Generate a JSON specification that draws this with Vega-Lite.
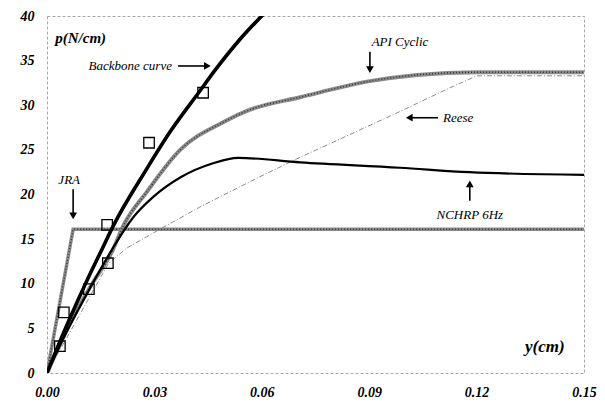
{
  "$schema": "https://vega.github.io/schema/vega-lite/v6.json",
  "width": 537,
  "height": 357,
  "autosize": {"type": "none"},
  "padding": {"left": 47, "top": 16, "right": 21, "bottom": 34},
  "background": "white",
  "config": {
    "view": {"stroke": "#a8a8a8", "strokeDash": [3, 2], "strokeWidth": 1},
    "axis": {
      "grid": false, "domain": false, "ticks": false, "title": null,
      "labelFont": "Liberation Serif", "labelFontSize": 14, "labelFontWeight": "bold",
      "labelFontStyle": "italic", "labelColor": "black", "labelFlush": false, "labelOverlap": false
    }
  },
  "datasets": {
    "curves": [
      {"series": "Backbone", "x": 0, "y": 0},
      {"series": "Backbone", "x": 0.0056, "y": 5.4},
      {"series": "Backbone", "x": 0.0112, "y": 10.4},
      {"series": "Backbone", "x": 0.0154, "y": 13.9},
      {"series": "Backbone", "x": 0.0184, "y": 16.4},
      {"series": "Backbone", "x": 0.0279, "y": 22.9},
      {"series": "Backbone", "x": 0.0335, "y": 26.5},
      {"series": "Backbone", "x": 0.0427, "y": 31.6},
      {"series": "Backbone", "x": 0.0469, "y": 33.9},
      {"series": "Backbone", "x": 0.0535, "y": 37.2},
      {"series": "Backbone", "x": 0.0612, "y": 40.5},
      {"series": "API", "x": 0, "y": 0},
      {"series": "API", "x": 0.006, "y": 5.2},
      {"series": "API", "x": 0.012, "y": 9.6},
      {"series": "API", "x": 0.0184, "y": 13.8},
      {"series": "API", "x": 0.0212, "y": 16.4},
      {"series": "API", "x": 0.0279, "y": 20.3},
      {"series": "API", "x": 0.0372, "y": 25.0},
      {"series": "API", "x": 0.0492, "y": 28.1},
      {"series": "API", "x": 0.0567, "y": 29.5},
      {"series": "API", "x": 0.0707, "y": 30.9},
      {"series": "API", "x": 0.0902, "y": 32.7},
      {"series": "API", "x": 0.1034, "y": 33.4},
      {"series": "API", "x": 0.12, "y": 33.7},
      {"series": "API", "x": 0.15, "y": 33.7},
      {"series": "NCHRP", "x": 0, "y": 0},
      {"series": "NCHRP", "x": 0.006, "y": 5.0},
      {"series": "NCHRP", "x": 0.012, "y": 9.5},
      {"series": "NCHRP", "x": 0.0184, "y": 14.0},
      {"series": "NCHRP", "x": 0.024, "y": 17.4},
      {"series": "NCHRP", "x": 0.0296, "y": 19.7},
      {"series": "NCHRP", "x": 0.0372, "y": 21.9},
      {"series": "NCHRP", "x": 0.0464, "y": 23.5},
      {"series": "NCHRP", "x": 0.0534, "y": 24.1},
      {"series": "NCHRP", "x": 0.0707, "y": 23.6},
      {"series": "NCHRP", "x": 0.0986, "y": 23.0},
      {"series": "NCHRP", "x": 0.118, "y": 22.5},
      {"series": "NCHRP", "x": 0.15, "y": 22.2},
      {"series": "Reese", "x": 0, "y": 0},
      {"series": "Reese", "x": 0.0172, "y": 12.3},
      {"series": "Reese", "x": 0.0223, "y": 14.0},
      {"series": "Reese", "x": 0.0324, "y": 16.3},
      {"series": "Reese", "x": 0.0427, "y": 18.6},
      {"series": "Reese", "x": 0.0595, "y": 22.0},
      {"series": "Reese", "x": 0.0698, "y": 24.0},
      {"series": "Reese", "x": 0.0883, "y": 27.4},
      {"series": "Reese", "x": 0.0986, "y": 29.3},
      {"series": "Reese", "x": 0.1117, "y": 31.8},
      {"series": "Reese", "x": 0.1201, "y": 33.3},
      {"series": "Reese", "x": 0.15, "y": 33.3},
      {"series": "JRA", "x": 0, "y": 0},
      {"series": "JRA", "x": 0.0073, "y": 16.1},
      {"series": "JRA", "x": 0.15, "y": 16.1}
    ],
    "tests": [
      {"x": 0.0036, "y": 3.0},
      {"x": 0.0047, "y": 6.8},
      {"x": 0.0117, "y": 9.4},
      {"x": 0.017, "y": 12.3},
      {"x": 0.0168, "y": 16.6},
      {"x": 0.0285, "y": 25.8},
      {"x": 0.0436, "y": 31.4}
    ],
    "arrows": [
      {"name": "JRA", "x": 0.0073, "y": 20.6, "x2": 0.0073, "y2": 17.6, "dir": "down"},
      {"name": "Backbone curve", "x": 0.0366, "y": 34.4, "x2": 0.0448, "y2": 34.4, "dir": "right"},
      {"name": "API Cyclic", "x": 0.0902, "y": 36.0, "x2": 0.0902, "y2": 34.0, "dir": "down"},
      {"name": "Reese", "x": 0.1092, "y": 28.6, "x2": 0.1012, "y2": 28.6, "dir": "left"},
      {"name": "NCHRP 6Hz", "x": 0.1181, "y": 19.3, "x2": 0.1181, "y2": 21.2, "dir": "up"}
    ],
    "notes": [
      {"label": "JRA", "x": 0.0062, "y": 21.6, "pos": "center"},
      {"label": "API Cyclic", "x": 0.0986, "y": 37.1, "pos": "center"},
      {"label": "NCHRP 6Hz", "x": 0.1181, "y": 17.7, "pos": "center"},
      {"label": "Backbone curve", "x": 0.0349, "y": 34.4, "pos": "right"},
      {"label": "Reese", "x": 0.1106, "y": 28.6, "pos": "left"}
    ],
    "titles": [
      {"label": "p(N/cm)", "x": 0.0023, "y": 37.5, "pos": "p"},
      {"label": "y(cm)", "x": 0.1335, "y": 2.9, "pos": "y"}
    ]
  },
  "encoding": {
    "x": {"field": "x", "type": "quantitative", "scale": {"domain": [0, 0.15], "nice": false, "zero": false},
          "axis": {"values": [0, 0.03, 0.06, 0.09, 0.12, 0.15], "format": ".2f", "labelPadding": 12}},
    "y": {"field": "y", "type": "quantitative", "scale": {"domain": [0, 40], "nice": false, "zero": false},
          "axis": {"values": [0, 5, 10, 15, 20, 25, 30, 35, 40], "format": "d", "labelPadding": 13}}
  },
  "layer": [
    {"data": {"name": "curves"}, "transform": [{"filter": "datum.series === 'Reese'"}],
     "mark": {"type": "line", "color": "#8c8c8c", "strokeWidth": 1, "strokeDash": [5, 2, 1, 2], "clip": true}},
    {"data": {"name": "curves"}, "transform": [{"filter": "datum.series === 'JRA'"}],
     "mark": {"type": "line", "color": "#8a8a8a", "strokeWidth": 3.5, "clip": true}},
    {"data": {"name": "curves"}, "transform": [{"filter": "datum.series === 'JRA'"}],
     "mark": {"type": "line", "color": "#3a3a3a", "strokeWidth": 1.5, "strokeDash": [1, 2], "clip": true}},
    {"data": {"name": "curves"}, "transform": [{"filter": "datum.series === 'API'"}],
     "mark": {"type": "line", "color": "#8a8a8a", "strokeWidth": 4, "interpolate": "monotone", "clip": true}},
    {"data": {"name": "curves"}, "transform": [{"filter": "datum.series === 'API'"}],
     "mark": {"type": "line", "color": "#3a3a3a", "strokeWidth": 1.6, "strokeDash": [1, 2], "interpolate": "monotone", "clip": true}},
    {"data": {"name": "curves"}, "transform": [{"filter": "datum.series === 'NCHRP'"}],
     "mark": {"type": "line", "color": "black", "strokeWidth": 2.2, "interpolate": "monotone", "clip": true}},
    {"data": {"name": "curves"}, "transform": [{"filter": "datum.series === 'Backbone'"}],
     "mark": {"type": "line", "color": "black", "strokeWidth": 3.6, "interpolate": "monotone", "clip": true}},
    {"data": {"name": "tests"},
     "mark": {"type": "point", "shape": "square", "size": 110, "filled": false, "stroke": "black", "strokeWidth": 1.3, "opacity": 1}},
    {"data": {"name": "arrows"},
     "mark": {"type": "rule", "color": "black", "strokeWidth": 1.6},
     "encoding": {"x2": {"field": "x2"}, "y2": {"field": "y2"}}},
    {"data": {"name": "arrows"}, "transform": [{"filter": "datum.dir === 'down'"}],
     "mark": {"type": "point", "shape": "triangle-down", "filled": true, "color": "black", "size": 60, "opacity": 1},
     "encoding": {"x": {"field": "x2", "type": "quantitative"}, "y": {"field": "y2", "type": "quantitative"}}},
    {"data": {"name": "arrows"}, "transform": [{"filter": "datum.dir === 'up'"}],
     "mark": {"type": "point", "shape": "triangle-up", "filled": true, "color": "black", "size": 60, "opacity": 1},
     "encoding": {"x": {"field": "x2", "type": "quantitative"}, "y": {"field": "y2", "type": "quantitative"}}},
    {"data": {"name": "arrows"}, "transform": [{"filter": "datum.dir === 'right'"}],
     "mark": {"type": "point", "shape": "triangle-right", "filled": true, "color": "black", "size": 60, "opacity": 1},
     "encoding": {"x": {"field": "x2", "type": "quantitative"}, "y": {"field": "y2", "type": "quantitative"}}},
    {"data": {"name": "arrows"}, "transform": [{"filter": "datum.dir === 'left'"}],
     "mark": {"type": "point", "shape": "triangle-left", "filled": true, "color": "black", "size": 60, "opacity": 1},
     "encoding": {"x": {"field": "x2", "type": "quantitative"}, "y": {"field": "y2", "type": "quantitative"}}},
    {"data": {"name": "notes"}, "transform": [{"filter": "datum.pos === 'center'"}],
     "mark": {"type": "text", "font": "Liberation Serif", "fontStyle": "italic", "fontSize": 13, "align": "center", "baseline": "middle", "color": "black"},
     "encoding": {"text": {"field": "label"}}},
    {"data": {"name": "notes"}, "transform": [{"filter": "datum.pos === 'right'"}],
     "mark": {"type": "text", "font": "Liberation Serif", "fontStyle": "italic", "fontSize": 13, "align": "right", "baseline": "middle", "color": "black"},
     "encoding": {"text": {"field": "label"}}},
    {"data": {"name": "notes"}, "transform": [{"filter": "datum.pos === 'left'"}],
     "mark": {"type": "text", "font": "Liberation Serif", "fontStyle": "italic", "fontSize": 13, "align": "left", "baseline": "middle", "color": "black"},
     "encoding": {"text": {"field": "label"}}},
    {"data": {"name": "titles"}, "transform": [{"filter": "datum.pos === 'p'"}],
     "mark": {"type": "text", "font": "Liberation Serif", "fontStyle": "italic", "fontWeight": "bold", "fontSize": 15, "align": "left", "baseline": "middle", "color": "black"},
     "encoding": {"text": {"field": "label"}}},
    {"data": {"name": "titles"}, "transform": [{"filter": "datum.pos === 'y'"}],
     "mark": {"type": "text", "font": "Liberation Serif", "fontStyle": "italic", "fontWeight": "bold", "fontSize": 17, "align": "left", "baseline": "middle", "color": "black"},
     "encoding": {"text": {"field": "label"}}}
  ]
}
